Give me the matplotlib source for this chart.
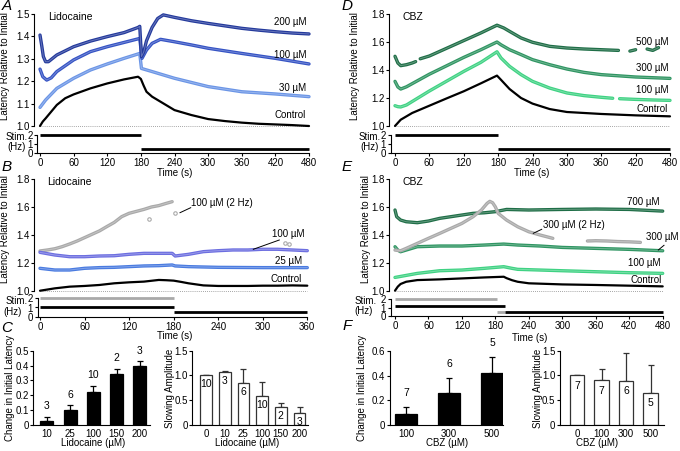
import numpy as np
import matplotlib
matplotlib.use('Agg')
import matplotlib.pyplot as plt
from matplotlib.lines import Line2D

nan = np.nan

# ---------------- data: panel A (Lidocaine, time course) ----------------
a_ctrl_t = [0, 5, 10, 20, 30, 45, 60, 90, 120, 150, 175, 180, 185, 190, 200, 220, 240, 270, 300, 330, 360, 390, 420, 450, 480]
a_ctrl_v = [1.00, 1.02, 1.034, 1.064, 1.094, 1.124, 1.141, 1.168, 1.19, 1.208, 1.22, 1.21, 1.18, 1.153, 1.131, 1.101,
            1.071, 1.049, 1.031, 1.022, 1.015, 1.01, 1.007, 1.004, 1.0]
a_30_t = [0, 10, 30, 60, 90, 120, 150, 178, 181, 200, 240, 300, 360, 420, 480]
a_30_v = [1.083, 1.116, 1.168, 1.213, 1.25, 1.277, 1.302, 1.324, 1.257, 1.243, 1.213, 1.176, 1.153, 1.143, 1.131]
a_100_t = [0, 5, 12, 20, 30, 60, 90, 120, 150, 178, 182, 190, 200, 215, 240, 270, 300, 360, 420, 480]
a_100_v = [1.254, 1.22, 1.205, 1.215, 1.243, 1.295, 1.332, 1.354, 1.373, 1.391, 1.302, 1.339, 1.369, 1.387, 1.376,
           1.362, 1.347, 1.324, 1.302, 1.277]
a_200_t = [0, 3, 6, 10, 15, 30, 60, 90, 120, 150, 175, 178, 181, 185, 190, 200, 210, 220, 240, 270, 300, 330, 360,
           390, 420, 450, 480]
a_200_v = [1.406, 1.36, 1.31, 1.287, 1.287, 1.317, 1.354, 1.379, 1.399, 1.417, 1.44, 1.445, 1.31, 1.33, 1.38, 1.44,
           1.48, 1.496, 1.485, 1.47, 1.458, 1.447, 1.436, 1.428, 1.421, 1.415, 1.411]

# ---------------- data: panel D (CBZ, time course) ----------------
d_ctrl_t = [0, 10, 30, 60, 90, 120, 150, 178, 185, 200, 220, 240, 270, 300, 360, 420, 480]
d_ctrl_v = [1.0, 1.045, 1.093, 1.145, 1.197, 1.248, 1.305, 1.36, 1.33, 1.264, 1.2, 1.16, 1.121, 1.1, 1.086, 1.076, 1.069]
d_100_t = [0, 5, 10, 20, 30, 60, 90, 120, 150, 178, 185, 200, 220, 240, 270, 300, 330, 360, 380, 385, 392, 420, 450, 480]
d_100_v = [1.145, 1.138, 1.136, 1.15, 1.175, 1.25, 1.32, 1.39, 1.455, 1.53, 1.486, 1.426, 1.367, 1.319, 1.271, 1.236,
           1.217, 1.205, 1.198, nan, 1.195, 1.19, 1.186, 1.183]
d_300_t = [0, 5, 10, 20, 60, 90, 120, 150, 178, 185, 200, 220, 240, 270, 300, 330, 360, 420, 480]
d_300_v = [1.319, 1.279, 1.264, 1.28, 1.37, 1.43, 1.49, 1.545, 1.6, 1.58, 1.545, 1.51, 1.474, 1.438, 1.407, 1.383,
           1.367, 1.35, 1.34]
d_500_t = [0, 5, 10, 20, 30, 36, 40, 44, 60, 90, 120, 150, 178, 190, 200, 220, 240, 270, 300, 330, 360, 390, 400,
           410, 420, 430, 440, 450, 460, 470, 480]
d_500_v = [1.498, 1.45, 1.431, 1.438, 1.45, 1.46, nan, 1.48, 1.50, 1.555, 1.61, 1.665, 1.72, 1.70, 1.676, 1.629,
           1.598, 1.569, 1.557, 1.55, 1.545, 1.54, nan, 1.535, 1.545, nan, 1.55, 1.54, 1.56, nan, 1.565]

# ---------------- data: panel B (Lidocaine, 1 Hz vs 2 Hz) ----------------
b_ctrl_t = [0, 20, 40, 60, 80, 100, 120, 140, 160, 170, 180, 190, 200, 220, 240, 260, 280, 300, 320, 340, 360]
b_ctrl_v = [1.002, 1.019, 1.031, 1.036, 1.043, 1.055, 1.062, 1.067, 1.079, 1.077, 1.074, 1.065, 1.055, 1.04, 1.036,
            1.036, 1.036, 1.038, 1.038, 1.04, 1.038]
b_25_t = [0, 20, 40, 60, 80, 100, 120, 140, 160, 178, 182, 200, 240, 300, 360]
b_25_v = [1.162, 1.15, 1.15, 1.162, 1.167, 1.169, 1.174, 1.179, 1.181, 1.186, 1.179, 1.174, 1.169, 1.167, 1.167]
b_100_t = [0, 20, 40, 60, 80, 100, 120, 140, 160, 178, 182, 200, 220, 240, 260, 280, 300, 320, 340, 360]
b_100_v = [1.276, 1.257, 1.245, 1.245, 1.25, 1.252, 1.262, 1.269, 1.269, 1.269, 1.25, 1.262, 1.281, 1.288, 1.293,
           1.293, 1.298, 1.298, 1.293, 1.288]
b_2hz_t = [0, 10, 20, 30, 40, 50, 60, 70, 80, 90, 100, 110, 120, 130, 140, 150, 160, 170, 178]
b_2hz_v = [1.286, 1.293, 1.302, 1.317, 1.336, 1.357, 1.381, 1.405, 1.429, 1.46, 1.49, 1.531, 1.555, 1.569, 1.583,
           1.6, 1.61, 1.626, 1.638]
b_2hz_extra_t = [147, 182, 330, 335]
b_2hz_extra_v = [1.517, 1.555, 1.34, 1.335]

# ---------------- data: panel E (CBZ, 1 Hz vs 2 Hz) ----------------
e_ctrl_t = [0, 5, 10, 20, 40, 80, 120, 160, 195, 200, 210, 220, 240, 300, 360, 420, 480]
e_ctrl_v = [1.0, 1.029, 1.048, 1.064, 1.076, 1.081, 1.088, 1.095, 1.1, 1.09, 1.075, 1.064, 1.053, 1.045, 1.041, 1.036, 1.031]
e_100_t = [0, 40, 80, 120, 160, 195, 210, 220, 260, 300, 360, 420, 480]
e_100_v = [1.095, 1.124, 1.143, 1.148, 1.16, 1.172, 1.16, 1.153, 1.148, 1.143, 1.136, 1.129, 1.124]
e_300_t = [0, 5, 10, 20, 40, 80, 120, 160, 195, 220, 260, 300, 360, 420, 480]
e_300_v = [1.315, 1.291, 1.279, 1.291, 1.315, 1.32, 1.32, 1.327, 1.334, 1.327, 1.32, 1.31, 1.303, 1.296, 1.286]
e_700_t = [0, 3, 10, 20, 40, 60, 80, 100, 120, 140, 160, 180, 200, 240, 300, 360, 420, 480]
e_700_v = [1.578, 1.53, 1.506, 1.494, 1.487, 1.499, 1.518, 1.53, 1.542, 1.554, 1.558, 1.566, 1.582, 1.578, 1.582,
           1.585, 1.582, 1.57]
e_2hz_t = [0, 10, 20, 40, 60, 80, 100, 120, 140, 155, 165, 170, 175, 180, 185, 200, 220, 240, 260, 283, 310,
           345, 360, 380, 400, 420, 440]
e_2hz_v = [1.291, 1.286, 1.303, 1.339, 1.375, 1.41, 1.446, 1.482, 1.53, 1.578, 1.625, 1.64, 1.63, 1.6, 1.554, 1.506,
           1.458, 1.422, 1.399, 1.375, nan, 1.356, 1.358, 1.356, 1.352, 1.35, 1.346]

# stimulation protocol bars: (start, end, Hz)
a_stim = [(0, 180, 2), (180, 480, 0.5)]
d_stim = [(0, 180, 2), (180, 480, 0.5)]
b_stim_gray = [(0, 180, 2)]
b_stim_black = [(0, 180, 1), (180, 360, 0.5)]
e_stim_gray = [(0, 183, 2), (183, 197, 0.5)]
e_stim_black = [(0, 197, 1.15), (197, 480, 0.5)]

# ---------------- data: bar charts ----------------
c1_cats = ['10', '25', '100', '150', '200']
c1_mean = [0.025, 0.10, 0.22, 0.34, 0.40]
c1_err = [0.03, 0.035, 0.045, 0.04, 0.03]
c1_n = [3, 6, 10, 2, 3]

c2_cats = ['0', '10', '25', '100', '150', '200']
c2_mean = [1.0, 1.07, 0.84, 0.58, 0.36, 0.25]
c2_err = [0.0, 0.02, 0.29, 0.29, 0.08, 0.12]
c2_n = [10, 3, 6, 10, 2, 3]

f1_cats = ['100', '300', '500']
f1_mean = [0.09, 0.26, 0.42]
f1_err = [0.055, 0.12, 0.13]
f1_n = [7, 6, 5]

f2_cats = ['0', '100', '300', '500']
f2_mean = [1.0, 0.9, 0.89, 0.65]
f2_err = [0.0, 0.24, 0.57, 0.56]
f2_n = [7, 7, 6, 5]

# ---------------- styling ----------------
plt.rcParams['font.family'] = ['Liberation Sans', 'DejaVu Sans']
plt.rcParams['font.size'] = 7
plt.rcParams['axes.linewidth'] = 0.8
plt.rcParams['xtick.major.size'] = 2.2
plt.rcParams['ytick.major.size'] = 2.2
plt.rcParams['xtick.major.width'] = 0.8
plt.rcParams['ytick.major.width'] = 0.8
plt.rcParams['xtick.major.pad'] = 1.5
plt.rcParams['ytick.major.pad'] = 1.2
plt.rcParams['xtick.labelsize'] = 7
plt.rcParams['ytick.labelsize'] = 7

W, H = 680, 451
fig = plt.figure(figsize=(6.8, 4.51), dpi=100)

A_NAVY = '#243a9c'
A_MID = '#3553c4'
A_LIGHT = '#6b95e6'
B_PURPLE = '#6c6ee0'
B_BLUE = '#4a7be0'
GRAY = '#a9a9a9'
G_DARK = '#1f6e47'
G_MID = '#2f9562'
G_LIGHT = '#3fd283'


def rect(l, r, t, b):
    return [l / W, 1 - b / H, (r - l) / W, (b - t) / H]


def ftext(x, y, s, **kw):
    kw.setdefault('ha', 'center')
    kw.setdefault('va', 'center')
    fig.text(x / W, 1 - y / H, s, **kw)


def fline(x0, y0, x1, y1):
    fig.add_artist(Line2D([x0 / W, x1 / W], [1 - y0 / H, 1 - y1 / H], color='black', lw=0.7,
                          transform=fig.transFigure))


def time_panel(spine_px, stim_spine_px, x0_px, x1_px, tmax, y1_px, ytop_px, ytop_val, yticks,
               s0_px, s2_px, xticks):
    pps = (x1_px - x0_px) / tmax
    right_px = x1_px + 6
    ax = fig.add_axes(rect(spine_px, right_px, ytop_px, y1_px))
    ax.set_xlim((spine_px - x0_px) / pps, tmax + 6 / pps)
    ax.set_ylim(1.0, ytop_val)
    for s in ['top', 'right', 'bottom']:
        ax.spines[s].set_visible(False)
    ax.set_xticks([])
    ax.set_yticks(yticks)
    ax.set_yticklabels([f'{v:.1f}' for v in yticks])
    ax.patch.set_alpha(0)
    ax.plot([0, tmax], [1.0, 1.0], ls=(0, (1, 1.5)), color='#888888', lw=0.6, clip_on=False)

    spu = (s0_px - s2_px) / 2.0
    sax = fig.add_axes(rect(stim_spine_px, right_px, s2_px - 3, s0_px))
    sax.set_xlim((stim_spine_px - x0_px) / pps, tmax + 6 / pps)
    sax.set_ylim(0, 2 + 3 / spu)
    for s in ['top', 'right']:
        sax.spines[s].set_visible(False)
    sax.spines['left'].set_bounds(0, 2)
    sax.spines['bottom'].set_bounds((stim_spine_px - x0_px) / pps, tmax)
    sax.set_yticks([0, 1, 2])
    sax.set_xticks(xticks)
    sax.patch.set_alpha(0)
    return ax, sax


def trace(ax, t, v, color, lw=2.4, hollow=True):
    ax.plot(t, v, color=color, lw=lw, solid_capstyle='round', solid_joinstyle='round', clip_on=False)
    if hollow:
        ax.plot(t, v, color='white', lw=0.7, alpha=0.3, clip_on=False)


def stim(sax, segs, color):
    for (t0, t1, hz) in segs:
        sax.plot([t0, t1], [hz, hz], color=color, lw=2.0, solid_capstyle='butt', clip_on=False)


# ---------------- Panel A ----------------
axA, sA = time_panel(34.3, 37.3, 40, 309, 480, 126, 14, 1.5, [1.0, 1.1, 1.2, 1.3, 1.4, 1.5],
                     153, 135, list(range(0, 481, 60)))
trace(axA, a_30_t, a_30_v, A_LIGHT)
trace(axA, a_100_t, a_100_v, A_MID)
trace(axA, a_200_t, a_200_v, A_NAVY)
trace(axA, a_ctrl_t, a_ctrl_v, 'black', lw=1.6, hollow=False)
stim(sA, a_stim, 'black')
ftext(48, 17, 'Lidocaine', ha='left', fontsize=7.5)
ftext(306, 22, '200 µM', ha='right')
ftext(306, 55, '100 µM', ha='right')
ftext(306, 88, '30 µM', ha='right')
ftext(306, 115, 'Control', ha='right')

# ---------------- Panel D ----------------
axD, sD = time_panel(389.3, 390.7, 395, 670, 480, 126, 14, 1.8, [1.0, 1.2, 1.4, 1.6, 1.8],
                     153, 135, list(range(0, 481, 60)))
trace(axD, d_100_t, d_100_v, G_LIGHT)
trace(axD, d_300_t, d_300_v, G_MID)
trace(axD, d_500_t, d_500_v, G_DARK)
trace(axD, d_ctrl_t, d_ctrl_v, 'black', lw=1.6, hollow=False)
stim(sD, d_stim, 'black')
ftext(402.7, 16.7, 'CBZ', ha='left', fontsize=7.5)
ftext(668, 42, '500 µM', ha='right')
ftext(668, 68, '300 µM', ha='right')
ftext(668, 90, '100 µM', ha='right')
ftext(668, 109, 'Control', ha='right')

# ---------------- Panel B ----------------
axB, sB = time_panel(34.3, 37.7, 40, 307.3, 360, 291, 179, 1.8, [1.0, 1.2, 1.4, 1.6, 1.8],
                     316.7, 298.3, list(range(0, 361, 60)))
trace(axB, b_2hz_t, b_2hz_v, GRAY)
axB.plot(b_2hz_extra_t, b_2hz_extra_v, 'o', ms=2.5, mfc='white', mec=GRAY, mew=0.8, ls='none', clip_on=False)
trace(axB, b_25_t, b_25_v, B_BLUE)
trace(axB, b_100_t, b_100_v, B_PURPLE)
trace(axB, b_ctrl_t, b_ctrl_v, 'black', lw=1.6, hollow=False)
stim(sB, b_stim_gray, GRAY)
stim(sB, b_stim_black, 'black')
ftext(46.7, 181.7, 'Lidocaine', ha='left', fontsize=7.5)
ftext(191, 203.3, '100 µM (2 Hz)', ha='left')
fline(180, 212.7, 190.7, 207.7)
ftext(304, 234.3, '100 µM', ha='right')
fline(253.3, 249.3, 279.3, 240)
ftext(301.7, 260.7, '25 µM', ha='right')
ftext(301.7, 279, 'Control', ha='right')

# ---------------- Panel E ----------------
axE, sE = time_panel(389.3, 390.7, 395, 662.7, 480, 290.7, 179, 1.8, [1.0, 1.2, 1.4, 1.6, 1.8],
                     316, 299.3, list(range(0, 481, 60)))
trace(axE, e_100_t, e_100_v, G_LIGHT)
trace(axE, e_300_t, e_300_v, G_MID)
trace(axE, e_700_t, e_700_v, G_DARK)
trace(axE, e_2hz_t, e_2hz_v, GRAY)
trace(axE, e_ctrl_t, e_ctrl_v, 'black', lw=1.6, hollow=False)
stim(sE, e_stim_gray, GRAY)
stim(sE, e_stim_black, 'black')
ftext(402.7, 181.7, 'CBZ', ha='left', fontsize=7.5)
ftext(659.3, 202.3, '700 µM', ha='right')
ftext(542.7, 225, '300 µM (2 Hz)', ha='left')
fline(533.3, 233.3, 541.7, 229.3)
ftext(679, 236.7, '300 µM', ha='right')
fline(658.3, 250, 664, 245.3)
ftext(660, 262.7, '100 µM', ha='right')
ftext(661.7, 280, 'Control', ha='right')

# ---------------- axis labels for time panels ----------------
ftext(5.5, 66, 'Latency Relative to Initial', rotation=90)
ftext(5.5, 229, 'Latency Relative to Initial', rotation=90)
ftext(355, 66, 'Latency Relative to Initial', rotation=90)
ftext(366, 229, 'Latency Relative to Initial', rotation=90)
for (x, y) in [(175, 173), (531.7, 173), (175, 335.7), (530, 338)]:
    ftext(x, y, 'Time (s)')
for (x, y) in [(16.5, 136.5), (16.5, 300.5), (369.5, 136.5), (365.5, 300.5)]:
    ftext(x, y, 'Stim.')
for (x, y) in [(16.5, 147), (13, 312), (370, 147), (364, 311)]:
    ftext(x, y, '(Hz)')

# ---------------- bar charts ----------------
def bar_panel(l_px, r_px, first_px, step_px, width_px, y0_px, ytop_px, ytop_val, yticks, yticklabels,
              cats, mean, err, n, filled, n_inside, n_off):
    ax = fig.add_axes(rect(l_px, r_px, ytop_px - 1, y0_px))
    x = np.arange(len(cats))
    ax.set_xlim(-(first_px - l_px) / step_px, (r_px - first_px) / step_px)
    ax.set_ylim(0, ytop_val + 1 / ((y0_px - ytop_px) / ytop_val))
    for s in ['top', 'right']:
        ax.spines[s].set_visible(False)
    ax.spines['left'].set_bounds(0, ytop_val)
    w = width_px / step_px
    ecol = 'black' if filled else '#333333'
    ax.bar(x, mean, width=w, color='black' if filled else 'white', edgecolor=ecol, linewidth=0.9, zorder=2)
    errs = np.array(err)
    ax.errorbar(x, mean, yerr=[np.zeros_like(errs), errs], fmt='none', ecolor=ecol, elinewidth=0.9,
                capsize=2.0, capthick=0.9, zorder=1)
    ax.set_xticks(x)
    ax.set_xticklabels(cats)
    ax.tick_params(axis='x', length=0, pad=3)
    ax.set_yticks(yticks)
    ax.set_yticklabels(yticklabels)
    ax.patch.set_alpha(0)
    for xi, m, e, k in zip(x, mean, err, n):
        if n_inside:
            ax.annotate(str(k), (xi, m), xytext=(0, -n_off), textcoords='offset points',
                        ha='center', va='center', fontsize=7.5, clip_on=False)
        else:
            ax.annotate(str(k), (xi, m + e), xytext=(0, n_off), textcoords='offset points',
                        ha='center', va='center', fontsize=7.5, clip_on=False)
    return ax


bar_panel(33.3, 150, 46.7, 23.3, 13, 425, 350.7, 0.5, [0, 0.1, 0.2, 0.3, 0.4, 0.5],
          ['0', '0.1', '0.2', '0.3', '0.4', '0.5'], c1_cats, c1_mean, c1_err, c1_n, True, False, 7.5)
bar_panel(192.3, 308, 206, 18.7, 11.7, 425, 350.7, 1.5, [0, 0.5, 1.0, 1.5],
          ['0', '0.5', '1.0', '1.5'], c2_cats, c2_mean, c2_err, c2_n, False, True, 6.5)
bar_panel(390, 503.3, 406, 43, 22.3, 425, 351, 0.6, [0, 0.2, 0.4, 0.6],
          ['0', '0.2', '0.4', '0.6'], f1_cats, f1_mean, f1_err, f1_n, True, False, 10.5)
bar_panel(560, 664, 577, 24.5, 14.7, 425, 350.7, 1.5, [0, 0.5, 1.0, 1.5],
          ['0', '0.5', '1.0', '1.5'], f2_cats, f2_mean, f2_err, f2_n, False, True, 7.5)

ftext(10, 388, 'Change in Initial Latency', rotation=90)
ftext(170, 388, 'Slowing Amplitude', rotation=90)
ftext(361.7, 388, 'Change in Initial Latency', rotation=90)
ftext(538.3, 388, 'Slowing Amplitude', rotation=90)
ftext(93.3, 443.5, 'Lidocaine (µM)')
ftext(246.7, 443.5, 'Lidocaine (µM)')
ftext(446.7, 443.5, 'CBZ (µM)')
ftext(596.7, 443.5, 'CBZ (µM)')

# ---------------- panel letters ----------------
for (x, y, s) in [(7, 6, 'A'), (347, 6, 'D'), (7, 167, 'B'), (347, 167, 'E'), (7, 328, 'C'), (347, 326, 'F')]:
    ftext(x, y, s, fontsize=11, fontstyle='italic')

fig.savefig('out.png', dpi=100)
